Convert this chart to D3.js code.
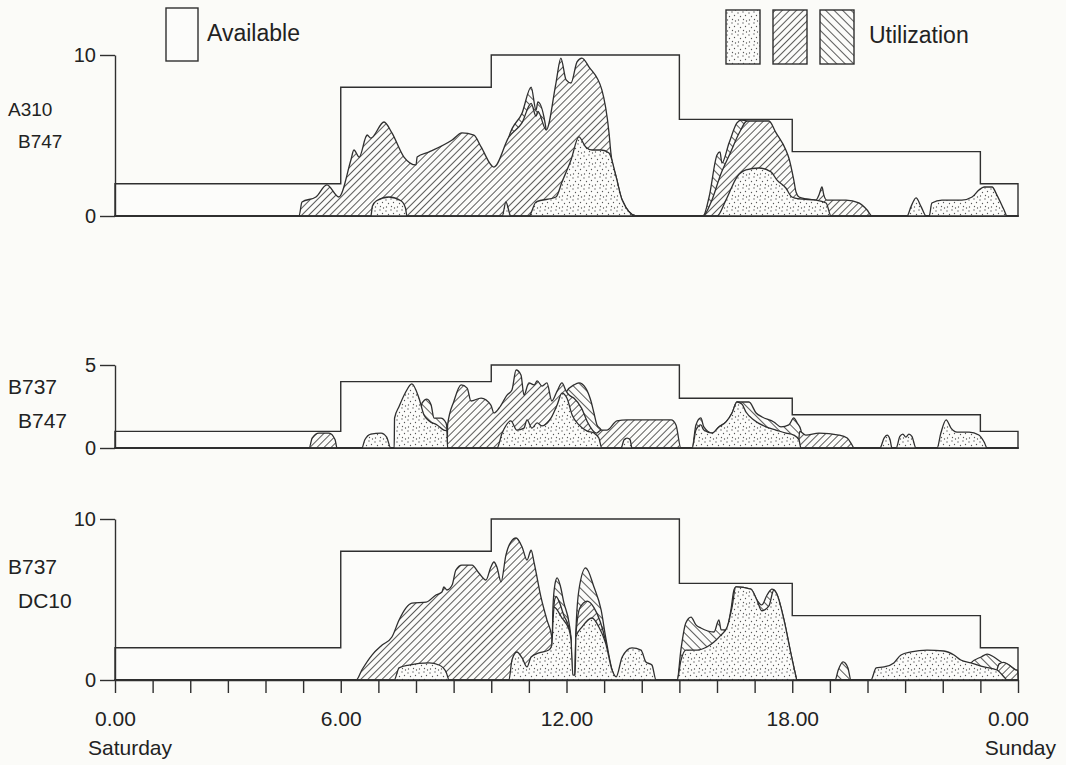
<!DOCTYPE html>
<html>
<head>
<meta charset="utf-8">
<script src="https://cdn.jsdelivr.net/npm/d3@7"></script>
<style>
  body { margin: 0; background: #fbfbf8; }
  text { font-family: "Liberation Sans", Arial, sans-serif; fill: #222; }
</style>
</head>
<body>
<svg id="chart" width="1066" height="765"></svg>
<script>
// ---- data (hours since Saturday 0.00, number of aircraft) ----
const hourTicks = d3.range(0, 25);
const labelHours = [0, 6, 12, 18, 24];
const tickLabels = ["0.00", "6.00", "12.00", "18.00", "0.00"];

const availHours = [0, 6, 10, 15, 18, 23, 24];
const availA = [2, 8, 10, 6, 4, 2, 2];
const availB = [1, 4, 5, 3, 2, 1, 1];
const availC = [2, 8, 10, 6, 4, 2, 2];

// cumulative outlines of the utilization layers, [hour, value]
const p1Dots = [[0,0],[6.80,0],[6.84,0.6],[6.95,0.95],[7.28,1.18],[7.60,0.95],[7.72,0.5],[7.76,0],[10.29,0],[10.39,0.87],[10.52,0],[11.00,0],[11.19,0.87],[11.72,1.18],[11.88,2.11],[12.12,3.48],[12.33,4.91],[12.51,4.29],[12.68,4.10],[12.92,4.10],[13.13,3.91],[13.32,2.42],[13.48,0.99],[13.85,0],[16.00,0],[16.24,1.0],[16.53,2.42],[16.77,2.86],[17.12,2.98],[17.44,2.73],[17.59,2.24],[17.83,1.74],[17.99,1.18],[18.18,1.06],[18.63,0.99],[18.90,0.81],[19.03,0],[21.05,0],[21.16,0.6],[21.29,1.12],[21.42,0.6],[21.56,0],[21.64,0],[21.71,0.81],[21.98,0.99],[22.51,0.99],[22.78,1.18],[22.96,1.61],[23.10,1.80],[23.31,1.80],[23.44,1.30],[23.63,0.37],[23.71,0],[24,0]];
const p1Fwd = [[0,0],[4.89,0],[4.97,0.87],[5.34,1.18],[5.63,1.93],[5.95,1.18],[6.27,3.48],[6.35,4.10],[6.49,3.66],[6.70,5.03],[6.80,4.84],[7.15,5.84],[7.36,5.16],[7.68,3.66],[8.00,3.17],[8.03,3.66],[8.35,3.98],[8.96,4.72],[9.22,5.16],[9.54,5.03],[9.73,4.29],[10.07,3.04],[10.47,4.91],[10.82,5.8],[11.06,7.0],[11.19,6.2],[11.24,6.5],[11.46,5.34],[11.72,8.26],[11.85,9.81],[11.99,8.45],[12.12,8.26],[12.28,9.57],[12.41,9.81],[12.60,9.25],[12.94,7.83],[13.13,5.16],[13.18,3.91],[13.32,2.42],[13.48,0.99],[13.85,0],[15.63,0],[15.85,0.9],[16.10,2.6],[16.35,3.9],[16.60,5.2],[16.80,5.9],[17.38,5.90],[17.57,5.16],[17.83,4.10],[17.91,3.60],[18.04,2.24],[18.10,1.49],[18.18,1.18],[18.37,1.06],[18.63,0.99],[18.71,1.30],[18.79,1.80],[18.84,1.30],[18.92,0.99],[19.43,0.99],[19.77,0.81],[19.99,0.37],[20.12,0],[24,0]];
const p1Back = [[0,0],[10.30,0],[10.36,3.2],[10.47,4.91],[10.82,6.40],[11.06,8.01],[11.19,6.58],[11.24,7.08],[11.46,5.34],[11.55,0],[15.63,0],[15.79,1.18],[16.00,3.79],[16.08,3.98],[16.13,3.29],[16.32,4.53],[16.53,5.78],[16.64,5.96],[16.80,5.9],[16.90,0],[24,0]];

const p2Dots = [[0,0],[6.56,0],[6.64,0.5],[6.80,0.84],[7.07,0.9],[7.22,0.66],[7.33,0],[7.42,0],[7.43,1.8],[7.55,2.5],[7.71,3.3],[7.89,3.86],[8.08,3.0],[8.21,2.0],[8.35,1.63],[8.56,1.39],[8.74,1.08],[8.82,1.02],[8.84,0],[10.15,0],[10.29,0.9],[10.52,1.63],[10.68,1.08],[10.87,1.2],[10.95,1.69],[11.08,1.2],[11.22,1.51],[11.35,1.33],[11.59,1.81],[11.75,2.59],[11.88,3.31],[12.01,3.01],[12.15,1.99],[12.33,1.39],[12.55,1.02],[12.73,0.9],[12.86,0.6],[12.94,0],[13.45,0],[13.53,0.5],[13.61,0.6],[13.69,0.5],[13.74,0],[15.34,0],[15.44,1.08],[15.57,1.39],[15.65,1.08],[15.87,0.9],[16.05,1.27],[16.24,1.57],[16.40,2.11],[16.53,2.77],[16.66,2.65],[16.77,2.17],[16.98,1.69],[17.30,1.27],[17.57,1.08],[17.83,0.9],[18.04,0.78],[18.18,0.48],[18.23,0],[20.33,0],[20.44,0.6],[20.52,0.78],[20.60,0.5],[20.65,0],[20.76,0],[20.86,0.7],[20.94,0.84],[21.02,0.66],[21.10,0.84],[21.18,0.7],[21.29,0],[21.85,0],[21.95,0.9],[22.09,1.69],[22.22,1.2],[22.38,0.96],[22.70,0.96],[22.96,0.78],[23.10,0.36],[23.18,0],[24,0]];
const p2Fwd = [[0,0],[5.16,0],[5.24,0.6],[5.42,0.9],[5.69,0.9],[5.85,0.5],[5.90,0],[8.83,0],[8.84,1.39],[9.01,2.83],[9.20,3.80],[9.36,3.61],[9.46,2.83],[9.73,3.01],[9.99,2.59],[10.07,2.11],[10.21,2.41],[10.42,3.19],[10.55,3.49],[10.66,4.70],[10.79,4.40],[10.87,3.19],[11.00,3.92],[11.14,3.80],[11.22,4.04],[11.35,3.73],[11.48,3.92],[11.61,2.83],[11.75,3.43],[11.88,3.92],[11.99,3.43],[12.07,3.19],[12.20,3.0],[12.40,2.4],[12.55,1.6],[12.80,0.9],[12.92,1.08],[13.08,1.08],[13.34,1.63],[13.61,1.69],[14.78,1.69],[14.91,1.39],[15.04,0],[18.15,0],[18.20,1.0],[18.36,0.78],[18.71,0.9],[19.24,0.78],[19.46,0.6],[19.59,0.18],[19.64,0],[24,0]];
const p2Back = [[0,0],[8.10,0],[8.14,2.4],[8.16,2.7],[8.29,2.95],[8.40,2.6],[8.48,1.8],[8.66,1.8],[8.80,1.5],[8.82,1.2],[8.84,0],[11.95,0],[12.00,3.4],[12.20,3.80],[12.33,3.92],[12.51,3.61],[12.65,2.83],[12.73,2.11],[12.81,1.39],[12.92,1.08],[12.95,0],[15.34,0],[15.44,1.39],[15.57,1.81],[15.65,1.27],[15.87,0.9],[16.05,1.27],[16.24,1.57],[16.40,2.11],[16.53,2.77],[16.66,2.77],[16.85,2.77],[17.04,2.11],[17.20,1.87],[17.51,1.57],[17.70,1.27],[17.91,1.39],[18.04,1.81],[18.13,1.51],[18.23,1.08],[18.29,0],[24,0]];

const p3Dots = [[0,0],[7.42,0],[7.55,0.75],[7.81,0.93],[8.35,1.06],[8.61,0.93],[8.80,0.5],[8.88,0],[10.47,0],[10.55,1.24],[10.68,1.74],[10.82,1.37],[10.95,0.81],[11.06,1.43],[11.27,1.68],[11.53,1.86],[11.61,2.17],[11.64,3.6],[11.67,4.53],[11.88,3.85],[12.07,3.11],[12.12,2.48],[12.17,0.3],[12.23,0.3],[12.25,2.67],[12.41,3.29],[12.68,3.85],[12.86,3.29],[13.04,2.30],[13.21,0.62],[13.32,0.2],[13.48,1.43],[13.74,1.99],[13.98,1.86],[14.11,1.12],[14.27,0.93],[14.38,0],[14.94,0],[15.04,1.2],[15.17,1.86],[15.47,1.86],[15.73,2.05],[15.92,2.36],[16.11,2.80],[16.27,3.29],[16.40,4.53],[16.50,5.78],[16.90,5.65],[17.06,4.97],[17.19,4.3],[17.38,4.6],[17.51,5.59],[17.59,5.34],[17.78,3.73],[17.96,1.68],[18.10,0.19],[18.12,0],[20.09,0],[20.23,0.75],[20.44,0.81],[20.70,1.06],[20.89,1.55],[21.16,1.74],[21.58,1.86],[22.03,1.80],[22.30,1.55],[22.48,1.24],[22.75,1.06],[23.10,0.81],[23.44,0.62],[23.63,0.19],[23.71,0],[24,0]];
const p3Fwd = [[0,0],[6.41,0],[6.56,0.62],[6.83,1.55],[7.10,2.17],[7.36,2.67],[7.55,3.73],[7.73,4.47],[7.89,4.78],[8.27,4.84],[8.53,5.28],[8.69,5.47],[8.74,5.78],[8.82,5.59],[8.96,5.90],[9.06,6.83],[9.22,7.14],[9.49,7.14],[9.67,6.65],[9.86,6.21],[9.99,7.02],[10.07,7.33],[10.15,7.02],[10.26,6.09],[10.39,7.76],[10.52,8.57],[10.66,8.82],[10.82,8.26],[10.95,7.45],[11.06,8.07],[11.14,7.27],[11.32,5.16],[11.48,3.73],[11.61,2.67],[11.63,0],[11.64,0],[11.66,4.5],[11.72,5.2],[11.80,4.9],[11.93,4.0],[12.07,3.2],[12.12,2.5],[12.15,0],[12.22,0],[12.25,2.8],[12.36,4.5],[12.55,4.9],[12.73,4.5],[12.90,3.6],[13.04,2.4],[13.15,1.0],[13.21,0.6],[13.32,0],[23.35,0],[23.50,1.0],[23.62,1.1],[23.76,0.93],[23.95,0.62],[23.99,0.6],[24,0]];
const p3Back = [[0,0],[11.60,0],[11.64,4.5],[11.69,5.9],[11.75,6.34],[11.83,5.9],[11.93,4.8],[12.07,3.5],[12.12,2.5],[12.15,0],[12.22,0],[12.25,3.0],[12.33,5.59],[12.51,6.96],[12.73,5.78],[12.92,4.35],[13.04,2.67],[13.21,0.62],[13.32,0],[14.94,0],[15.04,1.86],[15.17,3.54],[15.31,3.91],[15.44,3.42],[15.57,3.23],[15.92,2.98],[16.05,3.73],[16.11,3.11],[16.24,3.11],[16.37,4.35],[16.45,5.59],[16.50,5.78],[16.90,5.65],[17.06,4.97],[17.19,4.66],[17.33,5.28],[17.46,5.65],[17.59,5.34],[17.78,3.73],[17.96,1.68],[18.10,0.19],[18.12,0],[19.14,0],[19.22,0.6],[19.35,1.12],[19.48,0.75],[19.56,0],[22.70,0],[22.75,1.06],[23.02,1.43],[23.18,1.61],[23.36,1.43],[23.55,1.12],[23.76,0.93],[23.95,0.62],[23.99,0.6],[24,0]];

// ---- drawing ----
const ink = "#2f2f2f";
const paper = "#fcfcfa";
const font = '"Liberation Sans", Arial, sans-serif';
const svg = d3.select("#chart");
svg.append("rect").attr("width", 1066).attr("height", 765).attr("fill", "#fbfbf8");

const defs = svg.append("defs");
function hatch(id, angle, gap) {
    const p = defs.append("pattern")
        .attr("id", id)
        .attr("patternUnits", "userSpaceOnUse")
        .attr("width", gap).attr("height", gap)
        .attr("patternTransform", `rotate(${angle})`);
    p.append("rect").attr("width", gap).attr("height", gap).attr("fill", paper);
    p.append("line")
        .attr("x1", 0.5).attr("y1", 0).attr("x2", 0.5).attr("y2", gap)
        .attr("stroke", "#4a4a4a").attr("stroke-width", 0.9);
}
hatch("fwd", 45, 5);
hatch("back", -45, 6);

const dotTile = defs.append("pattern")
    .attr("id", "dots")
    .attr("patternUnits", "userSpaceOnUse")
    .attr("width", 11).attr("height", 11);
dotTile.append("rect").attr("width", 11).attr("height", 11).attr("fill", paper);
dotTile.selectAll("circle")
    .data([[1, 2], [6, 1], [3.5, 5.5], [8.5, 4.5], [1.5, 9], [6.5, 8.5], [9.5, 10]])
    .join("circle")
    .attr("cx", d => d[0]).attr("cy", d => d[1])
    .attr("r", 0.65).attr("fill", "#555");

const x = d3.scaleLinear().domain([0, 24]).range([115, 1018]);

const panels = [
    {names: ["A310", "B747"], avail: availA, max: 10, base: 216, top: 55,
     layers: [p1Back, p1Fwd, p1Dots], nameY: [116, 148], nameSize: 19},
    {names: ["B737", "B747"], avail: availB, max: 5, base: 448, top: 365,
     layers: [p2Back, p2Fwd, p2Dots], nameY: [394, 428], nameSize: 21},
    {names: ["B737", "DC10"], avail: availC, max: 10, base: 680, top: 519,
     layers: [p3Back, p3Fwd, p3Dots], nameY: [574, 608], nameSize: 21}
];
const fills = ["url(#back)", "url(#fwd)", "url(#dots)"];

panels.forEach((p, i) => {
    const y = d3.scaleLinear().domain([0, p.max]).range([p.base, p.top]);
    const g = svg.append("g").attr("class", `panel panel-${i}`);

    const stepArea = d3.area()
        .x(d => x(d[0]))
        .y0(y(0))
        .y1(d => y(d[1]))
        .curve(d3.curveStepAfter);

    g.append("path")
        .datum(availHours.map((h, k) => [h, p.avail[k]]))
        .attr("d", stepArea)
        .attr("fill", paper)
        .attr("stroke", ink)
        .attr("stroke-width", 1.4);

    const blob = d3.area()
        .x(d => x(d[0]))
        .y0(y(0))
        .y1(d => y(d[1]))
        .curve(d3.curveMonotoneX);

    g.selectAll(".layer")
        .data(p.layers)
        .join("path")
        .attr("class", "layer")
        .attr("d", blob)
        .attr("fill", (d, k) => fills[k])
        .attr("stroke", ink)
        .attr("stroke-width", 1.3)
        .attr("stroke-linejoin", "round");

    const axisY = d3.axisLeft(y)
        .tickValues([0, p.max])
        .tickFormat(d3.format("d"))
        .tickSize(15)
        .tickSizeOuter(0)
        .tickPadding(4);
    g.append("g")
        .attr("class", "axis axis-y")
        .attr("transform", `translate(${x(0)},0)`)
        .call(axisY)
        .call(a => a.selectAll("line, path").attr("stroke", ink).attr("stroke-width", 1.4))
        .call(a => a.selectAll("text").attr("font-size", 20).attr("fill", "#222")
            .attr("font-family", font));

    g.selectAll(".name")
        .data(p.names)
        .join("text")
        .attr("class", "name")
        .attr("x", (d, k) => k === 0 ? 8 : 18)
        .attr("y", (d, k) => p.nameY[k])
        .attr("font-size", p.nameSize)
        .text(d => d);

    if (i === panels.length - 1) {
        const axisX = d3.axisBottom(x)
            .tickValues(hourTicks)
            .tickSize(13)
            .tickSizeOuter(0)
            .tickPadding(18)
            .tickFormat(h => {
                const k = labelHours.indexOf(h);
                return k < 0 ? "" : tickLabels[k];
            });
        g.append("g")
            .attr("class", "axis axis-x")
            .attr("transform", `translate(0,${y(0)})`)
            .call(axisX)
            .call(a => a.selectAll("line, path").attr("stroke", ink).attr("stroke-width", 1.4))
            .call(a => a.selectAll("text").attr("font-size", 21).attr("fill", "#222")
                .attr("font-family", font)
                .attr("dx", h => h === 24 ? -10 : 0));

        svg.append("text").attr("x", 88).attr("y", 755).attr("font-size", 21).text("Saturday");
        svg.append("text").attr("x", 1056).attr("y", 755).attr("font-size", 21)
            .attr("text-anchor", "end").text("Sunday");
    }
});

// ---- legend ----
const legend = svg.append("g").attr("class", "legend");
legend.append("rect")
    .attr("x", 166).attr("y", 8).attr("width", 32).attr("height", 53)
    .attr("fill", paper).attr("stroke", ink).attr("stroke-width", 1.4);
legend.append("text").attr("x", 207).attr("y", 41).attr("font-size", 23).text("Available");

legend.selectAll(".util")
    .data(["url(#dots)", "url(#fwd)", "url(#back)"])
    .join("rect")
    .attr("class", "util")
    .attr("x", (d, k) => 726 + k * 47)
    .attr("y", 10).attr("width", 34).attr("height", 54)
    .attr("fill", d => d).attr("stroke", ink).attr("stroke-width", 1.4);
legend.append("text").attr("x", 869).attr("y", 43).attr("font-size", 23).text("Utilization");
</script>
</body>
</html>
